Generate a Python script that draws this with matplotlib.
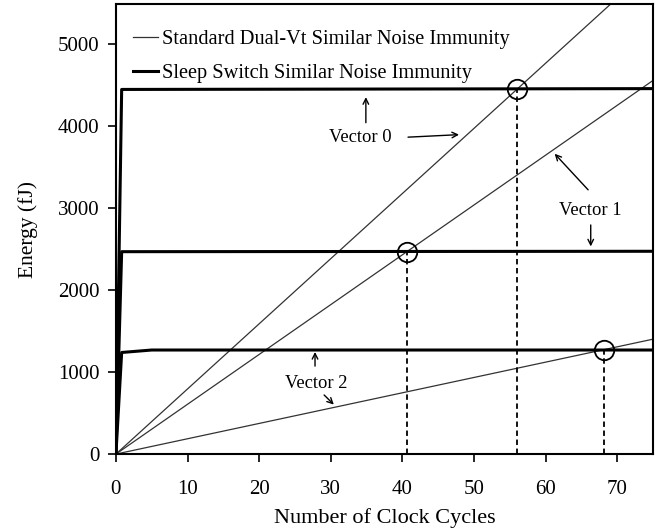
import numpy as np
import matplotlib
matplotlib.use("Agg")
from matplotlib import pyplot as plt

plt.rcParams['font.family'] = ['Liberation Serif', 'DejaVu Serif']

# clock cycle range
cycles = [0, 75]

# standard dual-Vt energy per cycle (fJ/cycle) for each vector
dual_slope = [79.5, 60.8, 18.7]

# sleep switch energy: ramp then plateau
sleep_x = [0, 0.8, 75]
sleep_v0 = [0, 4450, 4460]
sleep_v1 = [0, 2470, 2475]
sleep_v2_x = [0, 0.8, 5, 75]
sleep_v2 = [0, 1240, 1270, 1270]

# break-even points (cycles, energy)
cross_x = [40.6, 56.0, 68.1]
cross_y = [2470, 4455, 1270]

fig, ax = plt.subplots(figsize=(6.55, 5.28), dpi=100)
fig.subplots_adjust(left=0.177, right=0.997, top=0.992, bottom=0.14)

xs = np.array(cycles)
for i, s in enumerate(dual_slope):
    ax.plot(xs, s * xs, color='#333333', lw=0.9,
            label='Standard Dual-Vt Similar Noise Immunity' if i == 0 else None)

ax.plot(sleep_x, sleep_v0, color='black', lw=2.2,
        label='Sleep Switch Similar Noise Immunity')
ax.plot(sleep_x, sleep_v1, color='black', lw=2.2)
ax.plot(sleep_v2_x, sleep_v2, color='black', lw=2.2)

for cx, cy in zip(cross_x, cross_y):
    ax.plot([cx, cx], [0, cy], color='black', lw=1.3, ls=(0, (3, 2)))
    ax.plot(cx, cy, 'o', ms=14, mfc='none', mec='black', mew=1.3)

ap = dict(arrowstyle='->', color='black', lw=1.0)
fs = 13.3
ax.text(34.1, 3866, 'Vector 0', ha='center', va='center', fontsize=fs)
ax.annotate('', xy=(34.9, 4390), xytext=(34.9, 4010), arrowprops=ap)
ax.annotate('', xy=(48.3, 3900), xytext=(40.4, 3866), arrowprops=ap)

ax.text(66.2, 2976, 'Vector 1', ha='center', va='center', fontsize=fs)
ax.annotate('', xy=(61.0, 3690), xytext=(66.2, 3200), arrowprops=ap)
ax.annotate('', xy=(66.3, 2500), xytext=(66.3, 2830), arrowprops=ap)

ax.text(27.9, 866, 'Vector 2', ha='center', va='center', fontsize=fs)
ax.annotate('', xy=(27.8, 1280), xytext=(27.8, 1040), arrowprops=ap)
ax.annotate('', xy=(30.7, 580), xytext=(28.8, 745), arrowprops=ap)

ax.set_xlim(0, 75)
ax.set_ylim(0, 5490)
ax.set_xticks(range(0, 71, 10))
ax.set_yticks(range(0, 5001, 1000))
ax.tick_params(direction='out', length=6, width=1.2, labelsize=15)
ax.tick_params(axis='x', pad=13)
ax.tick_params(axis='y', pad=6)
for sp in ax.spines.values():
    sp.set_linewidth(1.5)

ax.set_xlabel('Number of Clock Cycles', fontsize=16, labelpad=6)
ax.set_ylabel('Energy (fJ)', fontsize=15.5, labelpad=14)

ax.legend(loc='upper left', bbox_to_anchor=(0.0164, 0.962), borderaxespad=0,
          frameon=False, fontsize=14.7, handlelength=1.23, handletextpad=0.2,
          labelspacing=0.72)

plt.savefig('out.png', dpi=100)
